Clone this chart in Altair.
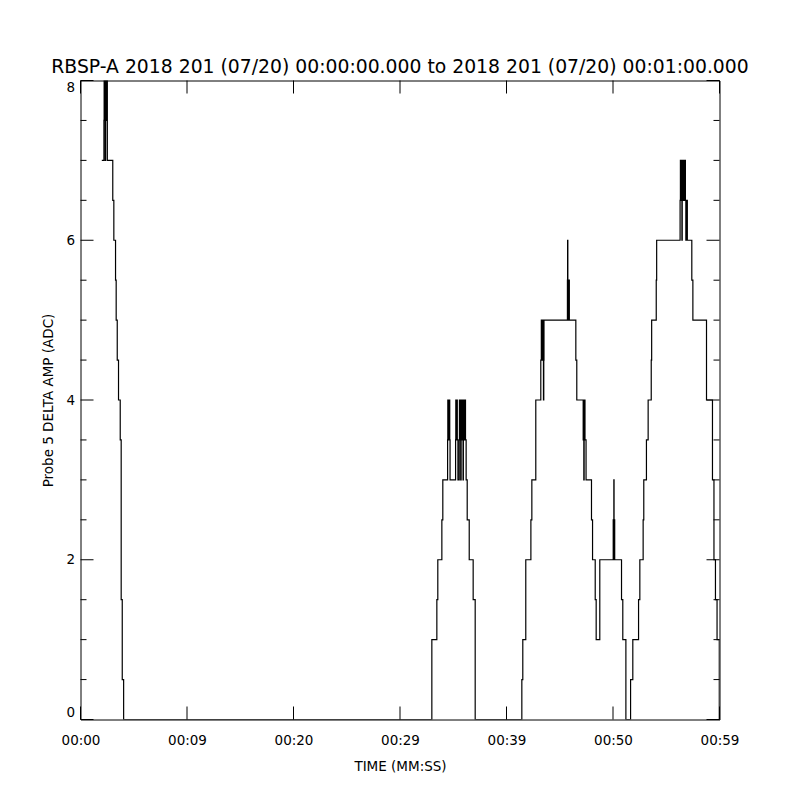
import altair as alt
import pandas as pd

# ---------------- data (seconds after 00:00:00, ADC counts) ----------------
peak_a_t = [2.00, 2.20, 2.22, 2.24, 2.26, 2.28, 2.30, 2.32, 2.36, 2.38, 2.40, 2.42, 2.44,
            2.46, 2.48, 2.50, 2.52, 3.03, 3.13, 3.29, 3.35, 3.45, 3.57, 3.73, 3.82, 3.92, 4.05]
peak_a_v = [7, 7.5, 8, 7.5, 8, 7.5, 8, 7, 7.5, 8, 7.5, 8, 7.5,
            8, 7.5, 8, 7, 6.5, 6, 5.5, 5, 4.5, 4, 3.5, 1.5, 0.5, 0]

peak_b_t = [32.99, 33.46, 33.55, 33.93, 34.02,
            34.47, 34.49, 34.51, 34.53, 34.55, 34.57, 34.59, 34.61, 34.63, 34.65, 34.67, 34.70,
            35.22, 35.24, 35.26, 35.28, 35.30, 35.32, 35.34, 35.36, 35.38, 35.44,
            35.56, 35.58, 35.60, 35.62, 35.64, 35.66, 35.68, 35.70, 35.74, 35.76, 35.78, 35.80,
            35.82, 35.84, 35.86, 35.88, 35.90, 35.92, 35.95, 35.97, 35.99, 36.01, 36.03, 36.05,
            36.07, 36.09, 36.11, 36.13, 36.15, 36.21,
            36.31, 36.50, 36.87, 37.06]
peak_b_v = [1, 1.5, 2, 2.5, 3,
            3.5, 4, 3.5, 4, 3.5, 4, 3.5, 4, 3.5, 4, 3.5, 3,
            3.5, 4, 3.5, 4, 3.5, 4, 3.5, 4, 3.5, 3,
            3.5, 4, 3.5, 4, 3.5, 4, 3.5, 3, 3.5, 4, 3.5, 4,
            3.5, 4, 3.5, 4, 3.5, 3, 3.5, 4, 3.5, 4, 3.5, 4,
            3.5, 4, 3.5, 4, 3.5, 3,
            2.5, 2, 1.5, 0]

peak_c_t = [41.44, 41.53, 41.81, 42.29, 42.38, 42.75, 43.22,
            43.27, 43.29, 43.31, 43.33, 43.35, 43.37, 43.39, 43.41, 43.43, 43.45, 43.47, 43.50, 43.52,
            45.72, 45.74, 45.76, 45.78, 45.80, 45.82, 45.84, 45.86, 45.88, 45.90,
            46.51, 46.60,
            47.20, 47.22, 47.24, 47.26, 47.29, 47.31, 47.33, 47.35, 47.37, 47.47,
            47.98, 48.08, 48.33, 48.42, 48.76,
            50.02, 50.04, 50.06, 50.08, 50.10, 50.12, 50.14, 50.16,
            50.80, 50.92, 51.21]
peak_c_v = [0.5, 1, 2, 2.5, 3, 4, 4.5,
            5, 4.5, 5, 4.5, 5, 4.5, 5, 4.5, 5, 4.5, 4, 4.5, 5,
            5.5, 6, 5.5, 5, 5.5, 5, 5.5, 5, 5.5, 5,
            4.5, 4,
            3.5, 4, 3.5, 3, 3.5, 4, 3.5, 4, 3.5, 3,
            2.5, 2, 1.5, 1, 2,
            2.5, 2, 2.5, 3, 2.5, 2, 2.5, 2,
            1.5, 1, 0]

peak_d_t = [51.65, 51.86, 52.40, 52.52, 52.83, 52.89, 53.14, 53.30, 53.59, 53.63, 54.06, 54.10,
            56.30, 56.33, 56.35, 56.37, 56.39, 56.41, 56.43, 56.45, 56.47, 56.50, 56.52, 56.54,
            56.56, 56.58, 56.60, 56.62, 56.64, 56.66, 56.68, 56.70, 56.75, 56.80, 56.84, 56.90, 56.98,
            57.40, 57.50, 58.78, 59.34, 59.48, 59.62, 59.77, 59.98, 60.00]
peak_d_v = [0.5, 1, 1.5, 2, 2.5, 3, 3.5, 4, 4.5, 5, 5.5, 6,
            6.5, 7, 6.5, 7, 6.5, 7, 6.5, 7, 6, 6.5, 7, 6.5,
            7, 6.5, 7, 6.5, 7, 6.5, 7, 6.5, 7, 6.5, 6, 6.5, 6,
            5.5, 5, 4, 3, 2, 1.5, 1, 0, 0]

x_tick_values = [0, 10, 20, 30, 40, 50, 60]
x_tick_labels = ["00:00", "00:09", "00:20", "00:29", "00:39", "00:50", "00:59"]
y_major = [0, 2, 4, 6, 8]
y_minor = [0.5, 1, 1.5, 2.5, 3, 3.5, 4.5, 5, 5.5, 6.5, 7, 7.5]

title_text = "RBSP-A 2018 201 (07/20) 00:00:00.000 to 2018 201 (07/20) 00:01:00.000"
x_title = "TIME (MM:SS)"
y_title = "Probe 5 DELTA AMP (ADC)"

# ---------------- chart ----------------
W, H = 639, 639
FONT = "DejaVu Sans"
FS = 13.5
MAJ, MIN = 13, 6
LW = 1.2

times = peak_a_t + peak_b_t + peak_c_t + peak_d_t
values = peak_a_v + peak_b_v + peak_c_v + peak_d_v
df = pd.DataFrame({"t": times, "v": values})

xs = alt.Scale(domain=[0, 60], nice=False, zero=False)
ys = alt.Scale(domain=[0, 8], nice=False, zero=False)

label_expr = "[" + ",".join("'%s'" % s for s in x_tick_labels) + "][round(datum.value/10)]"

x_axis = alt.Axis(
    values=x_tick_values, labelExpr=label_expr, title=x_title,
    domain=False, ticks=False, tickSize=0, grid=False,
    labelFlush=False, labelOverlap=False, labelPadding=14,
    labelFont=FONT, labelFontSize=FS, labelColor="black",
    titleFont=FONT, titleFontSize=FS, titleFontWeight="normal", titleColor="black",
    titleX=W / 2, titleY=47, titleBaseline="middle", titleAlign="center")
y_axis = alt.Axis(
    values=y_major, format="d", title=y_title,
    domain=False, ticks=False, tickSize=0, grid=False,
    labelFlush=True, labelOverlap=False, labelPadding=6,
    labelFont=FONT, labelFontSize=FS, labelColor="black",
    titleFont=FONT, titleFontSize=FS, titleFontWeight="normal", titleColor="black",
    titleX=-32, titleY=H / 2, titleBaseline="middle", titleAlign="center", titleAngle=270)

line = alt.Chart(df).mark_line(
    interpolate="step-after", color="black", strokeWidth=LW, clip=True
).encode(
    x=alt.X("t:Q", scale=xs, axis=x_axis, title=x_title),
    y=alt.Y("v:Q", scale=ys, axis=y_axis, title=y_title),
)

ymaj_df = pd.DataFrame({"v": y_major})
ymin_df = pd.DataFrame({"v": y_minor})
xt_df = pd.DataFrame({"t": x_tick_values})

def yticks(d, x0, x1):
    return alt.Chart(d).mark_rule(color="black", strokeWidth=1).encode(
        y=alt.Y("v:Q", scale=ys, axis=y_axis, title=y_title), x=alt.value(x0), x2=alt.value(x1))

def xticks(d, y0, y1):
    return alt.Chart(d).mark_rule(color="black", strokeWidth=1).encode(
        x=alt.X("t:Q", scale=xs, axis=x_axis, title=x_title), y=alt.value(y0), y2=alt.value(y1))

chart = alt.layer(
    line,
    yticks(ymaj_df, 0, MAJ), yticks(ymin_df, 0, MIN),
    yticks(ymaj_df, W - MAJ, W), yticks(ymin_df, W - MIN, W),
    xticks(xt_df, H, H - MAJ), xticks(xt_df, 0, MAJ),
).properties(
    width=W, height=H,
    title=alt.TitleParams(text=title_text, font=FONT, fontSize=18.8, fontWeight="normal",
                          color="black", anchor="middle", baseline="alphabetic",
                          offset=6, dy=18),
    autosize=alt.AutoSizeParams(type="none"),
    padding={"left": 72.5, "top": 72.5, "right": 60, "bottom": 60},
).configure(background="white").configure_view(stroke="black", strokeWidth=1)

chart.save("out.html", embed_options={"renderer": "svg", "actions": False})
